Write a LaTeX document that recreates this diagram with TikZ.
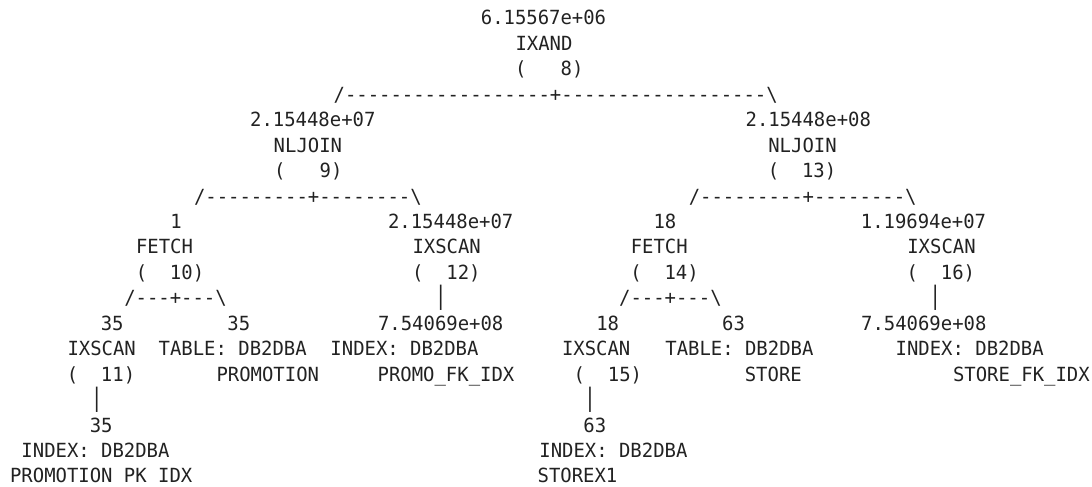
\documentclass[tikz,border=0pt]{standalone}
\usepackage{fontspec}
\setmonofont[FakeStretch=0.97]{DejaVu Sans Mono}
\usepackage{graphicx}
\usepackage{tikz}
\definecolor{plantext}{HTML}{222222}
\newcommand{\planfont}{\ttfamily\fontsize{19.5pt}{22pt}\selectfont}
\newcommand{\planbar}{\scalebox{1}[1.3]{|}}

\begin{document}
\begin{tikzpicture}[x=1pt, y=-1pt,
  op/.style={font=\planfont, text=plantext, inner sep=0pt, anchor=base}]

\useasboundingbox (0,0) rectangle (1092,487);

% IXAND
\node[op] (c8) at (543.5,25)    {6.15567e+06};
\node[op] (o8) at (544,50.44)   {IXAND};
\node[op] (n8) at (549.3,75.88) {(~~~8)};
\node[op] (f8) at (555.7,101.32) {/------------------+------------------\textbackslash};

% NLJOIN left
\node[op] (c9) at (312.8,126.76) {2.15448e+07};
\node[op] (o9) at (307.9,152.2)  {NLJOIN};
\node[op] (n9) at (308.3,177.64) {(~~~9)};
\node[op] (f9) at (307.9,203.08) {/---------+--------\textbackslash};

% NLJOIN right
\node[op] (c13) at (808.3,126.76) {2.15448e+08};
\node[op] (o13) at (802.5,152.2)  {NLJOIN};
\node[op] (n13) at (802,177.64)   {(~~13)};
\node[op] (f13) at (802.7,203.08) {/---------+--------\textbackslash};

% FETCH / IXSCAN under (9)
\node[op] (c10) at (176,228.52)   {1};
\node[op] (o10) at (164.5,253.96) {FETCH};
\node[op] (n10) at (170,279.4)    {(~~10)};
\node[op] (f10) at (175.5,304.84) {/---+---\textbackslash};

\node[op] (c12) at (450.7,228.52) {2.15448e+07};
\node[op] (o12) at (446.7,253.96) {IXSCAN};
\node[op] (n12) at (446.4,279.4)  {(~~12)};
\node[op] (p12) at (440.7,304.84) {\planbar};

% FETCH / IXSCAN under (13)
\node[op] (c14) at (664.9,228.52) {18};
\node[op] (o14) at (659.3,253.96) {FETCH};
\node[op] (n14) at (664.5,279.4)  {(~~14)};
\node[op] (f14) at (670.4,304.84) {/---+---\textbackslash};

\node[op] (c16) at (923.5,228.52) {1.19694e+07};
\node[op] (o16) at (941.5,253.96) {IXSCAN};
\node[op] (n16) at (940.9,279.4)  {(~~16)};
\node[op] (p16) at (935.3,304.84) {\planbar};

% leaves of (10) and (12)
\node[op] (c11) at (112.2,330.28) {35};
\node[op] (o11) at (101.7,355.72) {IXSCAN};
\node[op] (n11) at (101,381.16)   {(~~11)};
\node[op] (p11) at (96.7,406.6)   {\planbar};

\node[op] (ct1) at (238.8,330.28) {35};
\node[op] (t1a) at (232.7,355.72) {TABLE: DB2DBA};
\node[op] (t1b) at (267.8,381.16) {PROMOTION};

\node[op] (ci12) at (440.7,330.28) {7.54069e+08};
\node[op] (i12a) at (404.5,355.72) {INDEX: DB2DBA};
\node[op] (i12b) at (446,381.16)   {PROMO\_FK\_IDX};

% leaves of (14) and (16)
\node[op] (c15) at (607.7,330.28) {18};
\node[op] (o15) at (596.2,355.72) {IXSCAN};
\node[op] (n15) at (607.9,381.16) {(~~15)};
\node[op] (p15) at (590,406.6)    {\planbar};

\node[op] (ct2) at (733.5,330.28) {63};
\node[op] (t2a) at (739.4,355.72) {TABLE: DB2DBA};
\node[op] (t2b) at (773.3,381.16) {STORE};

\node[op] (ci16) at (923.8,330.28) {7.54069e+08};
\node[op] (i16a) at (969.7,355.72) {INDEX: DB2DBA};
\node[op] (i16b) at (1021.4,381.16) {STORE\_FK\_IDX};

% indexes under (11) and (15)
\node[op] (ci11) at (101.2,432.04) {35};
\node[op] (i11a) at (95.5,457.48)  {INDEX: DB2DBA};
\node[op] (i11b) at (101.2,482.92) {PROMOTION PK IDX};

\node[op] (ci15) at (594.8,432.04) {63};
\node[op] (i15a) at (613.4,457.48) {INDEX: DB2DBA};
\node[op] (i15b) at (577.5,482.92) {STOREX1};

\end{tikzpicture}
\end{document}
